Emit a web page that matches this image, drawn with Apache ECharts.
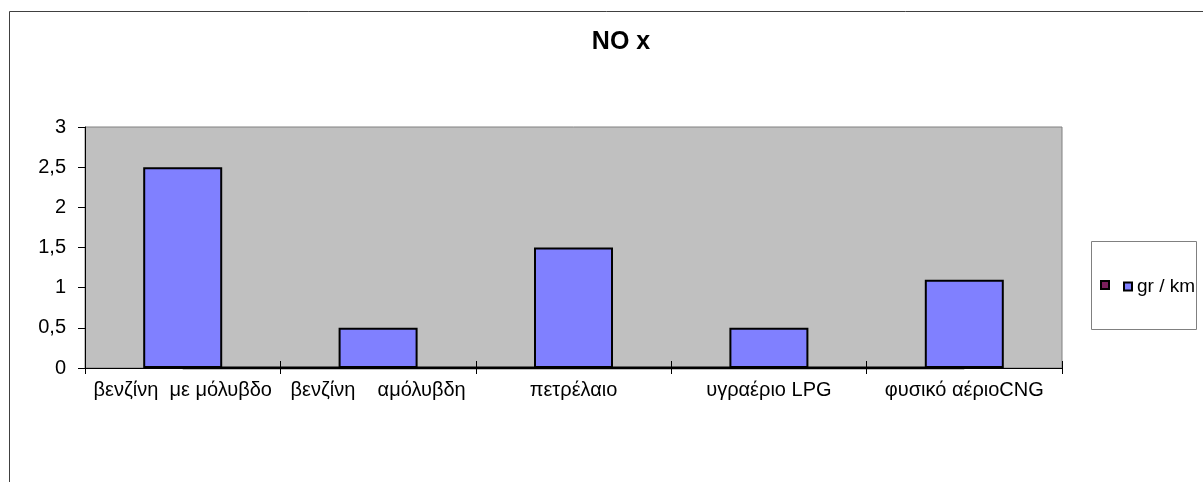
<!DOCTYPE html>
<html>
<head>
<meta charset="utf-8">
<script src="https://cdn.jsdelivr.net/npm/echarts@6/dist/echarts.min.js"></script>
<style>
html,body{margin:0;padding:0;background:#fff;}
#c{width:1203px;height:482px;}
</style>
</head>
<body>
<div id="c"></div>
<script>
var categories = ['βενζίνη  με μόλυβδο', 'βενζίνη    αμόλυβδη', 'πετρέλαιο', 'υγραέριο LPG', 'φυσικό αέριοCNG'];
var series1Name = ' ';
var series1Values = [0, 0, 0, 0, 0];
var series2Name = 'gr / km';
var series2Values = [2.5, 0.5, 1.5, 0.5, 1.1];
var titleText = 'NO x';

var chart = echarts.init(document.getElementById('c'), null, {renderer: 'canvas'});
var font = 'Liberation Sans, Arial, sans-serif';
chart.setOption({
  animation: false,
  backgroundColor: '#fff',
  title: {
    text: titleText,
    left: 616, textAlign: 'center', top: 25,
    textStyle: {fontFamily: font, fontSize: 25, fontWeight: 'bold', color: '#000'}
  },
  graphic: [
    {type: 'rect', shape: {x: 9.5, y: 11.5, width: 1220, height: 500}, style: {fill: null, stroke: '#404040', lineWidth: 1}, z: 100},
    {type: 'rect', shape: {x: 1091.5, y: 241.5, width: 105, height: 88}, style: {fill: '#fff', stroke: '#808080', lineWidth: 1}, z: 0}
  ],
  legend: [
    {
      left: 1100, top: 280, padding: 0, itemWidth: 8, itemHeight: 8, selectedMode: false,
      formatter: function () { return ''; },
      data: [{name: series1Name, icon: 'rect', itemStyle: {color: '#7a1f5c', borderColor: '#000', borderWidth: 2}}],
      textStyle: {fontFamily: font, fontSize: 19, color: '#000'}
    },
    {
      left: 1123, top: 277, padding: 0, itemWidth: 8, itemHeight: 8, itemGap: 0, selectedMode: false,
      data: [{name: series2Name, icon: 'rect', itemStyle: {color: '#8080ff', borderColor: '#000', borderWidth: 2}}],
      textStyle: {fontFamily: font, fontSize: 19, color: '#000'}
    }
  ],
  grid: {
    left: 85, top: 127, right: 141, bottom: 114,
    show: true, backgroundColor: '#c0c0c0', borderColor: '#808080', borderWidth: 1
  },
  xAxis: [
    {
      type: 'category', data: categories, boundaryGap: true,
      axisLine: {lineStyle: {color: '#000', width: 1}},
      axisTick: {show: true, length: 6, lineStyle: {color: '#000'}},
      axisLabel: {fontFamily: font, fontSize: 20, color: '#000', margin: 12, interval: 0},
      splitLine: {show: false}
    },
    {
      type: 'category', data: categories, boundaryGap: true, position: 'bottom',
      axisLine: {show: false},
      axisTick: {show: true, inside: true, length: 7, lineStyle: {color: '#000'}},
      axisLabel: {show: false},
      splitLine: {show: false}
    }
  ],
  yAxis: {
    type: 'value', min: 0, max: 3, interval: 0.5,
    axisLine: {show: true, lineStyle: {color: '#000', width: 1}},
    axisTick: {show: true, length: 7, lineStyle: {color: '#000'}},
    axisLabel: {fontFamily: font, fontSize: 20, color: '#000', margin: 19,
      formatter: function (v) { return String(v).replace('.', ','); }},
    splitLine: {show: false}
  },
  series: [
    {
      name: series1Name, type: 'line', data: series1Values,
      symbol: 'none', lineStyle: {color: '#000', width: 3}, itemStyle: {color: '#7a1f5c'}, z: 1
    },
    {
      name: series2Name, type: 'bar', data: series2Values, barWidth: 79,
      itemStyle: {color: '#8080ff', borderColor: '#000', borderWidth: 2}, z: 3
    }
  ]
});
</script>
</body>
</html>
